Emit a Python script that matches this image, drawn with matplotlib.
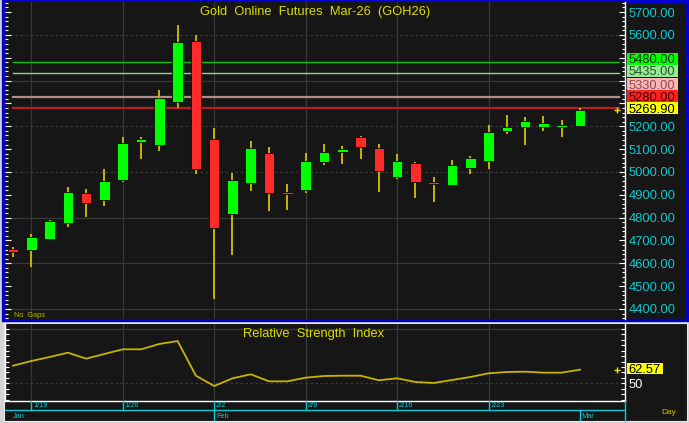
import matplotlib
matplotlib.use('Agg')
import matplotlib.pyplot as plt
from matplotlib.patches import Rectangle
from matplotlib.ticker import MultipleLocator, FixedLocator, FuncFormatter
import pandas as pd

plt.rcParams['font.family'] = ['Liberation Sans', 'DejaVu Sans']

# =========================
# DATOS
# =========================
fechas = ['2026-01-16', '2026-01-19', '2026-01-20', '2026-01-21', '2026-01-22', '2026-01-23',
          '2026-01-26', '2026-01-27', '2026-01-28', '2026-01-29', '2026-01-30',
          '2026-02-02', '2026-02-03', '2026-02-04', '2026-02-05', '2026-02-06',
          '2026-02-09', '2026-02-10', '2026-02-11', '2026-02-12', '2026-02-13',
          '2026-02-16', '2026-02-17', '2026-02-18', '2026-02-19', '2026-02-20',
          '2026-02-23', '2026-02-24', '2026-02-25', '2026-02-26', '2026-02-27',
          '2026-03-02']
aperturas = [4663, 4657, 4707, 4777, 4907, 4876, 4964, 5131, 5118, 5307, 5573,
             5143, 4817, 4952, 5082, 4909, 4920, 5044, 5087, 5152, 5104,
             4977, 5039, 4957, 4944, 5016, 5048, 5179, 5198, 5198, 5196, 5201]
maximos = [4672, 4727, 4788, 4936, 4927, 5012, 5152, 5152, 5359, 5642, 5598,
           5194, 4994, 5135, 5111, 4947, 5084, 5122, 5115, 5159, 5121,
           5079, 5042, 4977, 5051, 5071, 5206, 5249, 5242, 5246, 5226, 5280]
minimos = [4628, 4585, 4703, 4760, 4804, 4852, 4958, 5055, 5092, 5281, 4990,
           4443, 4637, 4915, 4828, 4835, 4907, 5030, 5035, 5055, 4911,
           4971, 4887, 4867, 4939, 4991, 5014, 5167, 5118, 5181, 5152, 5200]
cierres = [4650, 4714, 4784, 4911, 4864, 4962, 5125, 5144, 5322, 5569, 5013,
           4753, 4966, 5104, 4908, 4905, 5047, 5086, 5099, 5111, 5004,
           5048, 4956, 4949, 5030, 5062, 5174, 5198, 5223, 5214, 5204, 5269.90]
rsi = [66.2, 70.5, 74.2, 78.2, 72.7, 77.0, 81.3, 81.3, 86.2, 88.9, 57.0,
       47.5, 54.6, 58.3, 51.8, 51.8, 55.2, 56.7, 57.0, 57.0, 52.8,
       54.6, 51.2, 50.3, 53.0, 55.8, 59.2, 60.4, 60.7, 59.8, 59.8, 62.57]

niveles = [5480, 5435, 5330, 5280]
colores_linea = ['#10c010', '#80e080', '#b08c8c', '#b42020']
colores_caja = ['#00ff00', '#90ee90', '#ffb4b4', '#ff2020']
colores_texto = ['#103010', '#305030', '#8c4c4c', '#400000']

titulo = 'Gold  Online  Futures  Mar-26  (GOH26)'
titulo_rsi = 'Relative  Strength  Index'

# =========================
# COLORES / FIGURA
# =========================
FONDO = '#161616'
GRILLA = '#383838'
CIAN = '#10c8d0'
AMARILLO = '#dcdc00'
MECHA = '#c8b400'

W, H = 689, 423
fig = plt.figure(figsize=(W / 100, H / 100), dpi=100, facecolor='#d4d4d4')


def caja(x0, y0, x1, y1):
    # pixeles (origen arriba-izquierda) -> fraccion de figura
    return [x0 / W, 1 - y1 / H, (x1 - x0) / W, (y1 - y0) / H]


# Paneles de fondo
fig.patches.append(Rectangle((3 / W, 1 - 320 / H), 684 / W, 319 / H, transform=fig.transFigure,
                             facecolor=FONDO, edgecolor='#0000d0', linewidth=2.4, zorder=-2))
fig.patches.append(Rectangle((4 / W, 1 - 421 / H), 683 / W, 98 / H, transform=fig.transFigure,
                             facecolor=FONDO, edgecolor='#e8e8e8', linewidth=0.8, zorder=-2))

x = list(range(len(fechas)))
dias = pd.to_datetime(pd.Series(fechas))
lunes = [i for i in x if dias[i].weekday() == 0 and i < len(x) - 1]
inicio_mes = [i for i in x if i > 0 and dias[i].month != dias[i - 1].month]
xlim = (-0.437, 33.46)

# =========================
# PANEL DE PRECIOS
# =========================
ax = fig.add_axes(caja(5, 2, 625, 319))
ax.set_facecolor(FONDO)

for nivel in range(4400, 5700, 200):
    estilo = (0, (2, 2)) if nivel in (5000, 5200, 5600) else '-'
    ax.axhline(nivel, color=GRILLA, linewidth=0.9, linestyle=estilo, zorder=1)
for i in lunes:
    ax.axvline(i, color=GRILLA, linewidth=0.9, zorder=1)

for nivel, col, ancho in zip(niveles, colores_linea, [1.0, 1.0, 1.6, 1.6]):
    ax.axhline(nivel, xmin=0.013, xmax=0.99, color=col, linewidth=ancho, zorder=1.5)

# Velas
ax.vlines(x, minimos, maximos, color=MECHA, linewidth=1.4, zorder=2)
bases = [min(o, c) for o, c in zip(aperturas, cierres)]
alturas = [max(abs(c - o), 8) for o, c in zip(aperturas, cierres)]
colores = ['#00ff00' if c >= o else '#ff2a2a' for o, c in zip(aperturas, cierres)]
ax.bar(x, alturas, bottom=bases, width=0.58, color=colores, edgecolor='#0a0a0a',
       linewidth=0.6, zorder=3)

ax.plot([0.987], [cierres[-1]], marker='+', color='#e8e800', markersize=4, mew=1,
        transform=ax.get_yaxis_transform(), clip_on=False, zorder=4)

ax.set_xlim(*xlim)
ax.set_ylim(4356.2, 5743.8)
ax.set_xticks([])

# Etiquetas de niveles apiladas (posicion vertical en pixeles)
etiquetas = niveles + [cierres[-1]]
fondos = colores_caja + ['#ffff00']
textos = colores_texto + ['#000000']
ys = [ax.transData.transform((0, v))[1] + 2 for v in etiquetas]
for k in range(len(ys) - 2, -1, -1):
    ys[k] = max(ys[k], ys[k + 1] + 12)
for v, y, fc, tc in zip(etiquetas, ys, fondos, textos):
    fig.patches.append(Rectangle((627 / W, (y - 6) / H), 51 / W, 12 / H, transform=fig.transFigure,
                                 facecolor=fc, edgecolor='none', zorder=3))
    fig.text(629 / W, (y - 4.5) / H, f'{v:.2f}', color=tc, fontsize=9.3, va='baseline', zorder=4)


def formato_precio(v, pos):
    # el precio queda tapado por las cajas de niveles
    y = ax.transData.transform((0, v))[1]
    if any(abs(y - yc) < 12 for yc in ys):
        return ''
    return f'{v:.2f}'


ax.yaxis.set_major_locator(MultipleLocator(100))
ax.yaxis.set_minor_locator(MultipleLocator(20))
ax.yaxis.set_major_formatter(FuncFormatter(formato_precio))
ax.tick_params(axis='y', which='both', left=True, right=True, labelleft=False, labelright=True,
               direction='in', color='white', labelcolor=CIAN, labelsize=9.3, pad=2.5)
ax.tick_params(axis='y', which='major', length=4, width=0.8)
ax.tick_params(axis='y', which='minor', length=2, width=0.8)
for lado in ['left', 'top', 'bottom']:
    ax.spines[lado].set_visible(False)
ax.spines['right'].set_color('white')
ax.spines['right'].set_linewidth(1)

ax.text(0.5, 0.968, titulo, transform=ax.transAxes, ha='center', va='center',
        color=AMARILLO, fontsize=9.3)
ax.text(0.0145, 0.01, 'No  Gaps', transform=ax.transAxes, ha='left', va='center',
        color='#b4b400', fontsize=5.3)

# =========================
# PANEL RSI
# =========================
rax = fig.add_axes(caja(5, 324, 625, 401))
rax.set_facecolor(FONDO)
rax.axhline(100, color=GRILLA, linewidth=0.9, zorder=1)
rax.axhline(50, color=GRILLA, linewidth=0.9, linestyle=(0, (2, 2)), zorder=1)
for i in lunes:
    rax.axvline(i, color=GRILLA, linewidth=0.9, zorder=1)
rax.plot(x, rsi, color=MECHA, linewidth=1.3, zorder=3)
rax.plot([0.987], [rsi[-1]], marker='+', color='#e8e800', markersize=4, mew=1,
         transform=rax.get_yaxis_transform(), clip_on=False, zorder=4)

rax.set_xlim(*xlim)
rax.set_ylim(33.7, 104.6)
rax.set_xticks([])
rax.yaxis.set_major_locator(FixedLocator([50]))
rax.yaxis.set_minor_locator(MultipleLocator(5))
rax.tick_params(axis='y', which='both', left=True, right=True, labelleft=False, labelright=True,
                direction='in', color='white', labelcolor='white', labelsize=9.3, pad=2.5)
rax.tick_params(axis='y', which='major', length=3, width=0.8)
rax.tick_params(axis='y', which='minor', length=3, width=0.8)
rax.spines['top'].set_visible(False)
for lado in ['left', 'right', 'bottom']:
    rax.spines[lado].set_color('white')
    rax.spines[lado].set_linewidth(1)

rax.text(0.498, 0.87, titulo_rsi, transform=rax.transAxes, ha='center', va='center',
         color=AMARILLO, fontsize=9.3)

y_rsi = rax.transData.transform((0, rsi[-1]))[1] + 1
fig.patches.append(Rectangle((627 / W, (y_rsi - 5.5) / H), 36 / W, 11 / H, transform=fig.transFigure,
                             facecolor='#ffff00', edgecolor='none', zorder=3))
fig.text(628 / W, (y_rsi - 4.5) / H, f'{rsi[-1]:.2f}', color='#000000', fontsize=9.3,
         va='baseline', zorder=4)

# =========================
# EJE DE FECHAS
# =========================
dax = fig.add_axes(caja(5, 401, 625, 421))
dax.set_facecolor(FONDO)
dax.set_xlim(*xlim)
dax.set_ylim(0, 1)
dax.axis('off')
dax.axhline(0.55, color=CIAN, linewidth=1)
dax.plot([1, 1], [0, 1], color=CIAN, linewidth=1, transform=dax.transAxes, clip_on=False)
for i in lunes:
    dax.plot([i, i], [0.55, 1], color=CIAN, linewidth=1)
    dax.text(i + 0.1, 0.77, f'{dias[i].month}/{dias[i].day}', color=CIAN, fontsize=5.3,
             ha='left', va='center')
dax.text(0, 0.25, dias[0].strftime('%b'), color=CIAN, fontsize=5.3, ha='left', va='center')
for i in inicio_mes:
    dax.plot([i, i], [0, 0.55], color=CIAN, linewidth=1)
    dax.text(i + 0.1, 0.25, dias[i].strftime('%b'), color=CIAN, fontsize=5.3,
             ha='left', va='center')

fig.text(661 / W, 1 - 412 / H, 'Day', color='#c8c800', fontsize=6, ha='left', va='center')

fig.savefig('out.png', dpi=100, facecolor=fig.get_facecolor())
